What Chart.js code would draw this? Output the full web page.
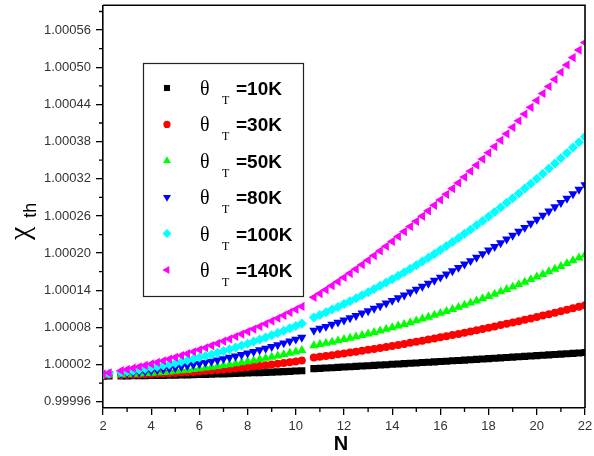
<!DOCTYPE html>
<html>
<head>
<meta charset="utf-8">
<script src="https://cdn.jsdelivr.net/npm/chart.js@4.4.1/dist/chart.umd.min.js"></script>
<style>
html,body{margin:0;padding:0;background:#fff;}
#wrap{width:594px;height:456px;}
</style>
</head>
<body>
<div id="wrap"><canvas id="c" width="594" height="456"></canvas></div>
<script>
// ---------- DATA ----------
const nValues = [2, 2.25, 2.75, 3, 3.25, 3.5, 3.75, 4, 4.25, 4.5, 4.75, 5, 5.25, 5.5, 5.75, 6, 6.25, 6.5, 6.75, 7, 7.25, 7.5, 7.75, 8, 8.25, 8.5, 8.75, 9, 9.25, 9.5, 9.75, 10, 10.25,
  10.75, 11, 11.25, 11.5, 11.75, 12, 12.25, 12.5, 12.75, 13, 13.25, 13.5, 13.75, 14, 14.25, 14.5, 14.75, 15, 15.25, 15.5, 15.75, 16, 16.25, 16.5, 16.75, 17, 17.25, 17.5, 17.75, 18, 18.25, 18.5, 18.75, 19, 19.25, 19.5, 19.75, 20, 20.25, 20.5, 20.75, 21, 21.25, 21.5, 21.75, 22];

const chi10K = [1.0000015, 1.0000016, 1.0000017, 1.0000018, 1.0000020, 1.0000021, 1.0000022, 1.0000024, 1.0000025, 1.0000027, 1.0000029, 1.0000031, 1.0000033, 1.0000035, 1.0000038, 1.0000040, 1.0000043, 1.0000045, 1.0000048, 1.0000051, 1.0000054, 1.0000057, 1.0000061, 1.0000064, 1.0000068, 1.0000071, 1.0000075, 1.0000079, 1.0000083, 1.0000087, 1.0000091, 1.0000096, 1.0000100,
  1.0000135, 1.0000140, 1.0000146, 1.0000151, 1.0000156, 1.0000161, 1.0000167, 1.0000172, 1.0000178, 1.0000183, 1.0000188, 1.0000194, 1.0000199, 1.0000205, 1.0000210, 1.0000216, 1.0000222, 1.0000227, 1.0000233, 1.0000239, 1.0000244, 1.0000250, 1.0000256, 1.0000262, 1.0000267, 1.0000273, 1.0000279, 1.0000285, 1.0000291, 1.0000297, 1.0000303, 1.0000309, 1.0000315, 1.0000321, 1.0000327, 1.0000333, 1.0000339, 1.0000345, 1.0000351, 1.0000357, 1.0000364, 1.0000370, 1.0000376, 1.0000382, 1.0000389, 1.0000395];

const chi30K = [1.0000030, 1.0000031, 1.0000034, 1.0000036, 1.0000038, 1.0000041, 1.0000044, 1.0000047, 1.0000051, 1.0000056, 1.0000060, 1.0000065, 1.0000071, 1.0000077, 1.0000083, 1.0000090, 1.0000097, 1.0000105, 1.0000112, 1.0000121, 1.0000129, 1.0000139, 1.0000148, 1.0000158, 1.0000168, 1.0000179, 1.0000190, 1.0000201, 1.0000213, 1.0000226, 1.0000238, 1.0000251, 1.0000265,
  1.0000314, 1.0000327, 1.0000340, 1.0000353, 1.0000367, 1.0000381, 1.0000395, 1.0000409, 1.0000424, 1.0000439, 1.0000454, 1.0000470, 1.0000486, 1.0000502, 1.0000518, 1.0000535, 1.0000552, 1.0000569, 1.0000586, 1.0000604, 1.0000622, 1.0000640, 1.0000659, 1.0000677, 1.0000696, 1.0000716, 1.0000735, 1.0000755, 1.0000775, 1.0000796, 1.0000817, 1.0000838, 1.0000859, 1.0000880, 1.0000902, 1.0000924, 1.0000946, 1.0000969, 1.0000992, 1.0001015, 1.0001039, 1.0001062, 1.0001086, 1.0001110, 1.0001135, 1.0001160];

const chi50K = [1.0000035, 1.0000036, 1.0000041, 1.0000044, 1.0000048, 1.0000052, 1.0000058, 1.0000064, 1.0000070, 1.0000077, 1.0000085, 1.0000094, 1.0000103, 1.0000113, 1.0000124, 1.0000135, 1.0000147, 1.0000160, 1.0000173, 1.0000187, 1.0000202, 1.0000217, 1.0000233, 1.0000250, 1.0000267, 1.0000285, 1.0000304, 1.0000323, 1.0000343, 1.0000364, 1.0000385, 1.0000407, 1.0000430,
  1.0000508, 1.0000527, 1.0000546, 1.0000565, 1.0000586, 1.0000607, 1.0000629, 1.0000651, 1.0000674, 1.0000697, 1.0000722, 1.0000746, 1.0000772, 1.0000798, 1.0000825, 1.0000852, 1.0000880, 1.0000909, 1.0000938, 1.0000968, 1.0000999, 1.0001030, 1.0001062, 1.0001094, 1.0001127, 1.0001161, 1.0001196, 1.0001231, 1.0001266, 1.0001303, 1.0001340, 1.0001377, 1.0001415, 1.0001454, 1.0001494, 1.0001534, 1.0001575, 1.0001616, 1.0001658, 1.0001701, 1.0001744, 1.0001788, 1.0001833, 1.0001878, 1.0001924, 1.0001970];

const chi80K = [1.0000040, 1.0000045, 1.0000057, 1.0000064, 1.0000072, 1.0000081, 1.0000091, 1.0000101, 1.0000113, 1.0000125, 1.0000138, 1.0000152, 1.0000167, 1.0000182, 1.0000199, 1.0000216, 1.0000234, 1.0000253, 1.0000273, 1.0000294, 1.0000316, 1.0000338, 1.0000361, 1.0000385, 1.0000410, 1.0000436, 1.0000463, 1.0000490, 1.0000519, 1.0000548, 1.0000578, 1.0000609, 1.0000640,
  1.0000751, 1.0000783, 1.0000815, 1.0000848, 1.0000883, 1.0000918, 1.0000954, 1.0000991, 1.0001029, 1.0001068, 1.0001108, 1.0001149, 1.0001191, 1.0001234, 1.0001278, 1.0001322, 1.0001368, 1.0001414, 1.0001462, 1.0001510, 1.0001560, 1.0001610, 1.0001661, 1.0001714, 1.0001767, 1.0001821, 1.0001876, 1.0001932, 1.0001989, 1.0002047, 1.0002105, 1.0002165, 1.0002226, 1.0002287, 1.0002350, 1.0002413, 1.0002478, 1.0002543, 1.0002610, 1.0002677, 1.0002745, 1.0002814, 1.0002884, 1.0002955, 1.0003027, 1.0003100];

const chi100K = [1.0000045, 1.0000055, 1.0000077, 1.0000090, 1.0000103, 1.0000118, 1.0000133, 1.0000149, 1.0000167, 1.0000185, 1.0000204, 1.0000224, 1.0000245, 1.0000267, 1.0000290, 1.0000314, 1.0000339, 1.0000365, 1.0000391, 1.0000419, 1.0000448, 1.0000477, 1.0000508, 1.0000539, 1.0000572, 1.0000605, 1.0000639, 1.0000674, 1.0000711, 1.0000748, 1.0000786, 1.0000825, 1.0000865,
  1.0000962, 1.0001003, 1.0001045, 1.0001088, 1.0001132, 1.0001178, 1.0001224, 1.0001271, 1.0001320, 1.0001369, 1.0001420, 1.0001472, 1.0001525, 1.0001579, 1.0001634, 1.0001690, 1.0001747, 1.0001806, 1.0001865, 1.0001925, 1.0001987, 1.0002050, 1.0002113, 1.0002178, 1.0002244, 1.0002311, 1.0002379, 1.0002449, 1.0002519, 1.0002590, 1.0002663, 1.0002736, 1.0002811, 1.0002887, 1.0002963, 1.0003041, 1.0003120, 1.0003200, 1.0003281, 1.0003364, 1.0003447, 1.0003531, 1.0003617, 1.0003704, 1.0003791, 1.0003880];

const chi140K = [1.0000050, 1.0000067, 1.0000103, 1.0000123, 1.0000144, 1.0000166, 1.0000189, 1.0000212, 1.0000237, 1.0000263, 1.0000290, 1.0000318, 1.0000347, 1.0000377, 1.0000408, 1.0000440, 1.0000473, 1.0000507, 1.0000542, 1.0000578, 1.0000615, 1.0000654, 1.0000693, 1.0000733, 1.0000774, 1.0000816, 1.0000859, 1.0000904, 1.0000949, 1.0000995, 1.0001043, 1.0001091, 1.0001140,
  1.0001286, 1.0001347, 1.0001410, 1.0001474, 1.0001539, 1.0001606, 1.0001674, 1.0001743, 1.0001814, 1.0001886, 1.0001960, 1.0002035, 1.0002111, 1.0002189, 1.0002268, 1.0002348, 1.0002430, 1.0002513, 1.0002597, 1.0002683, 1.0002771, 1.0002859, 1.0002949, 1.0003041, 1.0003133, 1.0003227, 1.0003323, 1.0003420, 1.0003518, 1.0003618, 1.0003719, 1.0003821, 1.0003925, 1.0004030, 1.0004136, 1.0004244, 1.0004353, 1.0004464, 1.0004576, 1.0004689, 1.0004804, 1.0004920, 1.0005038, 1.0005156, 1.0005277, 1.0005398];

const seriesLabels = ['=10K', '=30K', '=50K', '=80K', '=100K', '=140K'];
const yTickValues = [0.99996, 1.00002, 1.00008, 1.00014, 1.00020, 1.00026, 1.00032, 1.00038, 1.00044, 1.00050, 1.00056];
const yMinorValues = [0.99999, 1.00005, 1.00011, 1.00017, 1.00023, 1.00029, 1.00035, 1.00041, 1.00047, 1.00053, 1.00059];
const xMinorValues = [3, 5, 7, 9, 11, 13, 15, 17, 19, 21];
const xTitle = 'N';
const yTitleMain = 'χ';
const yTitleSub = 'th';
const legendSymbol = 'θ';
const legendSub = 'T';

// ---------- STYLES ----------
const seriesData = [chi10K, chi30K, chi50K, chi80K, chi100K, chi140K];
const styles = [
  {color: '#000000', pointStyle: 'rect', radius: 5.0, legendRadius: 4.3, rotation: 0},
  {color: '#ff0000', pointStyle: 'circle', radius: 4.0, legendRadius: 3.6, rotation: 0},
  {color: '#00ff00', pointStyle: 'triangle', radius: 5.3, legendRadius: 4.6, rotation: 0},
  {color: '#0000ff', pointStyle: 'triangle', radius: 5.3, legendRadius: 4.6, rotation: 180},
  {color: '#00ffff', pointStyle: 'rectRot', radius: 5.0, legendRadius: 4.5, rotation: 0},
  {color: '#ff00ff', pointStyle: 'triangle', radius: 5.3, legendRadius: 4.6, rotation: 270}
];
const SANS = "'Liberation Sans', Arial, sans-serif";
const SERIF = "'Liberation Serif', 'Times New Roman', serif";

const datasets = seriesData.map((arr, i) => ({
  label: seriesLabels[i],
  data: nValues.map((n, j) => ({x: n, y: arr[j]})),
  showLine: false,
  pointStyle: styles[i].pointStyle,
  pointRadius: styles[i].radius,
  pointHoverRadius: styles[i].radius,
  pointRotation: styles[i].rotation,
  pointBackgroundColor: styles[i].color,
  pointBorderColor: styles[i].color,
  pointBorderWidth: 0,
  order: seriesData.length - i
}));

function drawMarker(ctx, st, x, y) {
  ctx.save();
  ctx.fillStyle = st.color;
  ctx.strokeStyle = st.color;
  if (window.Chart && Chart.helpers && Chart.helpers.drawPoint) {
    Chart.helpers.drawPoint(ctx, {pointStyle: st.pointStyle, radius: st.legendRadius, rotation: st.rotation, borderWidth: 0}, x, y);
  }
  ctx.restore();
}

function noPad(s) { s.paddingTop = 0; s.paddingBottom = 0; s.paddingLeft = 0; s.paddingRight = 0; }

const decor = {
  id: 'decor',
  afterDraw(chart) {
    const ctx = chart.ctx;
    const a = chart.chartArea;
    const xs = chart.scales.x, ys = chart.scales.y;
    ctx.save();
    // frame top & right
    ctx.strokeStyle = '#000';
    ctx.lineWidth = 1.6;
    ctx.beginPath();
    ctx.moveTo(a.left, a.top); ctx.lineTo(a.right, a.top); ctx.lineTo(a.right, a.bottom);
    ctx.stroke();
    // minor ticks
    ctx.lineWidth = 1.3;
    ctx.beginPath();
    xMinorValues.forEach(v => { const px = xs.getPixelForValue(v); ctx.moveTo(px, a.bottom); ctx.lineTo(px, a.bottom + 4); });
    yMinorValues.forEach(v => { const py = ys.getPixelForValue(v); ctx.moveTo(a.left, py); ctx.lineTo(a.left - 4, py); });
    ctx.stroke();

    // x title
    ctx.fillStyle = '#000';
    ctx.font = 'bold 20px ' + SANS;
    ctx.textAlign = 'center';
    ctx.textBaseline = 'alphabetic';
    ctx.fillText(xTitle, (a.left + a.right) / 2 - 3, 450);

    // y title (rotated)
    ctx.save();
    ctx.translate(29, 240);
    ctx.rotate(-Math.PI / 2);
    ctx.textAlign = 'left';
    ctx.font = '30px ' + SERIF;
    ctx.fillText(yTitleMain, 0, 0);
    const wChi = ctx.measureText(yTitleMain).width;
    ctx.font = '18px ' + SANS;
    ctx.fillText(yTitleSub, wChi + 9, 7);
    ctx.restore();

    // legend box
    const bx = 143.5, by = 63.5, bw = 160, bh = 233;
    ctx.fillStyle = '#fff';
    ctx.fillRect(bx, by, bw, bh);
    ctx.strokeStyle = '#222';
    ctx.lineWidth = 1.2;
    ctx.strokeRect(bx, by, bw, bh);
    seriesLabels.forEach((lab, i) => {
      const cy = 88 + i * 36.4;
      drawMarker(ctx, styles[i], 167, cy);
      ctx.fillStyle = '#000';
      ctx.textAlign = 'left';
      ctx.font = '20px ' + SERIF;
      ctx.fillText(legendSymbol, 200, cy + 7);
      ctx.font = '12px ' + SERIF;
      ctx.fillText(legendSub, 222, cy + 16);
      ctx.font = 'bold 19px ' + SANS;
      ctx.fillText(lab, 236, cy + 7);
    });
    ctx.restore();
  }
};

new Chart(document.getElementById('c'), {
  type: 'scatter',
  data: {datasets},
  options: {
    responsive: false,
    animation: false,
    devicePixelRatio: 1,
    events: [],
    layout: {padding: {left: 0, right: 9, top: 5, bottom: 0}},
    plugins: {legend: {display: false}, tooltip: {enabled: false}},
    scales: {
      x: {
        type: 'linear', min: 2, max: 22,
        afterFit(s) { s.height = 48; noPad(s); },
        ticks: {stepSize: 2, autoSkip: false, maxRotation: 0, padding: 4, color: '#333', font: {family: SANS, size: 13}},
        grid: {display: true, drawOnChartArea: false, drawTicks: true, tickLength: 7, color: '#000', lineWidth: 1.3},
        border: {display: true, color: '#000', width: 1.6}
      },
      y: {
        type: 'linear', min: 0.99995, max: 1.00060,
        afterFit(s) { s.width = 103; noPad(s); },
        afterBuildTicks(s) { s.ticks = yTickValues.map(v => ({value: v})); },
        ticks: {autoSkip: false, padding: 5, color: '#333', font: {family: SANS, size: 13}, callback: v => Number(v).toFixed(5)},
        grid: {display: true, drawOnChartArea: false, drawTicks: true, tickLength: 7, color: '#000', lineWidth: 1.3},
        border: {display: true, color: '#000', width: 1.6}
      }
    }
  },
  plugins: [decor]
});
</script>
</body>
</html>
